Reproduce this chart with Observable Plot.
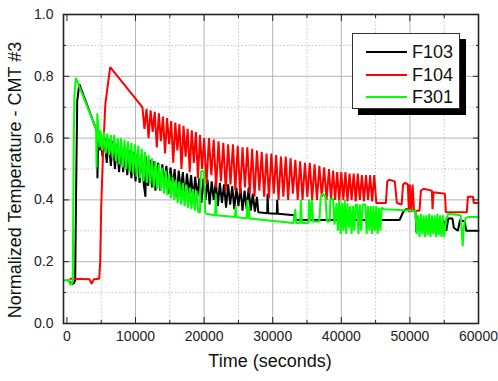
<!DOCTYPE html>
<html><head><meta charset="utf-8">
<script src="https://cdn.jsdelivr.net/npm/d3@7"></script>
<script src="https://cdn.jsdelivr.net/npm/@observablehq/plot@0.6"></script>
<style>
body{margin:0;background:#fff;}
#wrap{position:relative;width:498px;height:381px;font-family:"Liberation Sans",Arial,sans-serif;}
#legend{position:absolute;left:352px;top:33px;width:106px;height:74px;border:1px solid #333;background:#fff;box-shadow:6px 6px 0 #000;}
.row{position:absolute;left:0;width:106px;height:22px;}
.sw{position:absolute;left:13px;width:41px;height:0;border-top:2px solid;top:10px;}
.lab{position:absolute;left:59px;top:0;font-size:18px;line-height:22px;color:#111;}
</style>
</head><body>
<div id="wrap"><div id="chart"></div><div id="legend"></div></div>
<script>
const seriesNames = ["F103", "F104", "F301"];
const seriesColors = ["#000000", "#ff0000", "#00ff00"];
const xMajor = [0, 10000, 20000, 30000, 40000, 50000, 60000];
const xMinor = [5000, 15000, 25000, 35000, 45000, 55000];
const yMajor = [0.0, 0.2, 0.4, 0.6, 0.8, 1.0];
const yMinor = [0.1, 0.3, 0.5, 0.7, 0.9];

const f103 = [[200,0.14],[700,0.128],[1000,0.13],[1200,0.14],[1350,0.45],[1500,0.72],[1800,0.775],[4400,0.62],[4450,0.47],[4550,0.60],[4750,0.56],[4900,0.60],
[5200,0.54],[5500,0.60],[5800,0.52],[6100,0.595],[6400,0.51],[6700,0.59],[7000,0.50],[7300,0.58],[7600,0.49],[7900,0.575],[8200,0.49],[8500,0.57],[8800,0.48],[9100,0.56],[9400,0.47],[9700,0.555],[10000,0.46],[10300,0.55],[10600,0.455],[10900,0.545],[11200,0.45],[11450,0.41],[11500,0.54],[11800,0.445],[12100,0.53],[12400,0.44],[12700,0.525],[12900,0.43],[13000,0.46],[13300,0.52],[13600,0.43],[13900,0.515],[14200,0.45],[14500,0.51],[14800,0.42],[15100,0.505],[15400,0.44],[15700,0.50],[16000,0.41],[16300,0.495],[16600,0.43],[16900,0.49],[17200,0.405],[17500,0.485],[17800,0.42],[18100,0.48],[18400,0.40],[18700,0.475],[19000,0.41],[19300,0.47],[19600,0.39],[19900,0.47],[20200,0.40],[20500,0.465],[20800,0.385],[21100,0.46],[21400,0.40],[21700,0.46],[22000,0.38],[22300,0.455],[22600,0.39],[22900,0.45],[23200,0.375],[23500,0.45],[23800,0.385],[24100,0.445],[24400,0.37],[24700,0.44],[25000,0.38],[25300,0.44],[25600,0.365],[25900,0.43],[26200,0.37],[26500,0.44],[26800,0.365],[27100,0.42],[27400,0.362],[27700,0.41],[27900,0.36],[29200,0.357],[29250,0.42],[29350,0.357],[30600,0.355],[30650,0.40],[30750,0.355],[33200,0.35],[33300,0.335],[48500,0.335],[49000,0.36],[49400,0.37],[50800,0.365],[50950,0.295],[51100,0.33],[55000,0.33],[55300,0.30],[55600,0.34],[56200,0.34],[56400,0.31],[57000,0.30],[57300,0.335],[58000,0.33],[58200,0.30],[60000,0.30]];

const f104 = [[500,0.145],[3300,0.143],[3600,0.128],[3900,0.143],[4700,0.145],[4850,0.2],[5000,0.38],[5300,0.57],[5600,0.71],[6300,0.83],[11000,0.70],
[11300,0.63],[11600,0.695],[11900,0.60],[12200,0.69],[12500,0.62],[12800,0.685],[13100,0.57],[13400,0.68],[13700,0.59],[14000,0.67],[14300,0.55],[14600,0.665],[14900,0.58],[15200,0.655],[15500,0.52],[15800,0.65],[16100,0.56],[16400,0.645],[16700,0.50],[17000,0.64],[17300,0.54],[17600,0.63],[17900,0.49],[18200,0.625],[18500,0.52],[18800,0.62],[19100,0.47],[19400,0.61],[19700,0.50],[20000,0.60],[20350,0.45],[20700,0.60],[21050,0.48],[21400,0.595],[21750,0.44],[22100,0.59],[22450,0.46],[22800,0.585],[23150,0.43],[23500,0.58],[23850,0.45],[24200,0.58],[24550,0.43],[24900,0.575],[25250,0.42],[25600,0.57],[25950,0.44],[26300,0.57],[26650,0.42],[27000,0.565],[27350,0.41],[27700,0.56],[28050,0.43],[28400,0.555],[28750,0.41],[29100,0.55],[29450,0.405],[29800,0.55],[30150,0.42],[30500,0.545],[30850,0.40],[31200,0.54],[31550,0.41],[31900,0.54],[32250,0.40],[32600,0.535],[32950,0.42],[33300,0.53],[33650,0.40],[34000,0.525],[34350,0.40],[34700,0.52],[35050,0.41],[35400,0.52],[35750,0.40],[36100,0.515],[36450,0.40],[36800,0.51],[37150,0.41],[37500,0.505],[37850,0.40],[38200,0.50],[38500,0.40],[38800,0.495],[39100,0.40],[39400,0.49],[39700,0.395],[40000,0.49],[40300,0.40],[40600,0.49],[40900,0.395],[41200,0.485],[41500,0.40],[41800,0.485],[42100,0.395],[42400,0.485],[42700,0.40],[43000,0.48],[43300,0.395],[43600,0.48],[43900,0.40],[44200,0.48],[44500,0.395],[44800,0.48],[45100,0.39],
[46500,0.39],[46700,0.46],[47000,0.465],[47800,0.46],[48100,0.39],[48800,0.385],[49000,0.45],[49300,0.455],[49700,0.45],[49850,0.36],[50000,0.45],[50200,0.36],[50400,0.45],[50600,0.365],[51400,0.365],[51600,0.43],[52000,0.436],[53200,0.43],[53300,0.37],[53450,0.425],[55100,0.42],[55250,0.36],[58300,0.36],[58450,0.41],[59200,0.41],[59300,0.39],[60000,0.39]];

const f301 = [[-400,0.14],[300,0.14],[500,0.125],[750,0.13],[850,0.14],[900,0.3],[1000,0.6],[1100,0.74],[1300,0.795],[4250,0.63],[4320,0.505],[4380,0.60],[4430,0.68],[4600,0.62],[4750,0.57],[4900,0.625],
[5150,0.56],[5400,0.62],[5650,0.55],[5900,0.615],[6150,0.545],[6400,0.61],[6650,0.535],[6900,0.61],[7150,0.525],[7400,0.60],[7650,0.515],[7900,0.60],[8150,0.505],[8400,0.595],[8650,0.50],[8900,0.59],[9150,0.49],[9400,0.585],[9650,0.485],[9900,0.58],[10150,0.475],[10400,0.575],[10650,0.47],[10900,0.565],[11150,0.46],[11400,0.555],[11650,0.455],[11900,0.545],[12150,0.45],[12400,0.535],[12650,0.44],[12900,0.525],[13150,0.435],[13400,0.515],[13650,0.43],[13900,0.505],[14150,0.42],[14400,0.495],[14650,0.415],[14900,0.485],[15150,0.405],[15400,0.475],[15650,0.40],[15900,0.465],[16150,0.39],[16400,0.46],[16650,0.385],[16900,0.455],[17150,0.38],[17400,0.45],[17650,0.375],[17900,0.44],[18150,0.37],[18400,0.435],[18650,0.365],[18900,0.43],[19150,0.36],[19400,0.36],
[19500,0.49],[19700,0.495],[20000,0.49],[20150,0.36],[20300,0.355],[21600,0.35],[21700,0.42],[21800,0.35],[24500,0.345],[24600,0.38],[24700,0.345],[26200,0.34],[26300,0.40],[26400,0.34],[26500,0.38],[26600,0.34],[33000,0.325],[33300,0.37],[33400,0.325],[34000,0.325],[34100,0.40],[34250,0.325],[35200,0.325],[35300,0.40],[35500,0.33],[35700,0.40],[35900,0.33],[36800,0.33],[37000,0.41],[37300,0.42],[37700,0.41],[37900,0.33],[38300,0.33],[38400,0.40],[38800,0.405],[39000,0.32],
[39300,0.39],[39500,0.30],[39700,0.40],[39900,0.29],[40100,0.39],[40300,0.30],[40500,0.40],[40700,0.29],[40900,0.39],[41100,0.31],[41300,0.38],[41500,0.29],[41700,0.38],[41900,0.30],[42100,0.385],[42300,0.385],[42500,0.29],[42700,0.385],[42900,0.30],[43100,0.385],[43500,0.385],[43700,0.29],[43900,0.38],[44100,0.30],[44300,0.38],[44500,0.29],[44700,0.38],[44900,0.30],[45100,0.38],[45300,0.29],[45500,0.375],[45700,0.30],[45900,0.375],[46200,0.37],[50800,0.365],[51000,0.29],
[51200,0.35],[51400,0.28],[51600,0.355],[51800,0.29],[52000,0.35],[52200,0.28],[52400,0.35],[52600,0.285],[52800,0.355],[53000,0.28],[53200,0.35],[53400,0.29],[53600,0.35],[53800,0.28],[54000,0.355],[54200,0.285],[54400,0.35],[54600,0.28],[54800,0.35],[55000,0.28],[55300,0.34],[55600,0.355],[57400,0.35],[57550,0.30],[57700,0.25],[57850,0.31],[58100,0.34],[58500,0.345],[60000,0.345]];

const seriesData = [f103, f104, f301];

const minorGrid = {stroke: "#c4c4c4", strokeOpacity: 1, strokeDasharray: "1.5,2"};
const majorGrid = {stroke: "#b4b4b4", strokeOpacity: 1, strokeWidth: 1};
const blank = () => "";

const chart = Plot.plot({
  width: 498, height: 381,
  marginLeft: 63, marginRight: 20, marginTop: 14, marginBottom: 58,
  style: {fontFamily: "'Liberation Sans', Arial, sans-serif", color: "#222", background: "#fff"},
  x: {domain: [-500, 60000]},
  y: {domain: [0, 1]},
  marks: [
    Plot.gridX(xMinor, minorGrid),
    Plot.gridY(yMinor, minorGrid),
    Plot.gridX(xMajor.slice(1, -1), majorGrid),
    Plot.gridY(yMajor.slice(1, -1), majorGrid),
    ...seriesData.map((s, i) => Plot.line(s, {x: d => d[0], y: d => d[1], stroke: seriesColors[i], strokeWidth: 2, strokeLinejoin: "miter"})),
    Plot.frame({stroke: "#222", strokeWidth: 1.6}),
    Plot.axisX(xMajor, {anchor: "bottom", tickSize: -6, tickPadding: 14, fontSize: 14, tickFormat: d => String(d), label: null}),
    Plot.axisX(xMinor, {anchor: "bottom", tickSize: -3, tickFormat: blank, label: null}),
    Plot.axisX(xMajor, {anchor: "top", tickSize: -6, tickFormat: blank, label: null}),
    Plot.axisX(xMinor, {anchor: "top", tickSize: -3, tickFormat: blank, label: null}),
    Plot.axisY(yMajor, {anchor: "left", tickSize: -6, tickPadding: 16, fontSize: 14, tickFormat: d => d.toFixed(1), label: null}),
    Plot.axisY(yMinor, {anchor: "left", tickSize: -3, tickFormat: blank, label: null}),
    Plot.axisY(yMajor, {anchor: "right", tickSize: -6, tickFormat: blank, label: null}),
    Plot.axisY(yMinor, {anchor: "right", tickSize: -3, tickFormat: blank, label: null}),
    Plot.text(["Time (seconds)"], {frameAnchor: "bottom", textAnchor: "middle", dy: 43, dx: -1, fontSize: 18, fill: "#111"}),
    Plot.text(["Normalized Temperature - CMT #3"], {frameAnchor: "left", textAnchor: "middle", rotate: -90, dx: -48, dy: 11, fontSize: 18, fill: "#111"})
  ]
});
document.getElementById("chart").appendChild(chart);

const legend = document.getElementById("legend");
seriesNames.forEach((name, i) => {
  const row = document.createElement("div");
  row.className = "row";
  row.style.top = (7 + i * 22.5) + "px";
  row.innerHTML = `<div class="sw" style="border-color:${seriesColors[i]}"></div><div class="lab">${name}</div>`;
  legend.appendChild(row);
});
</script>
</body></html>
